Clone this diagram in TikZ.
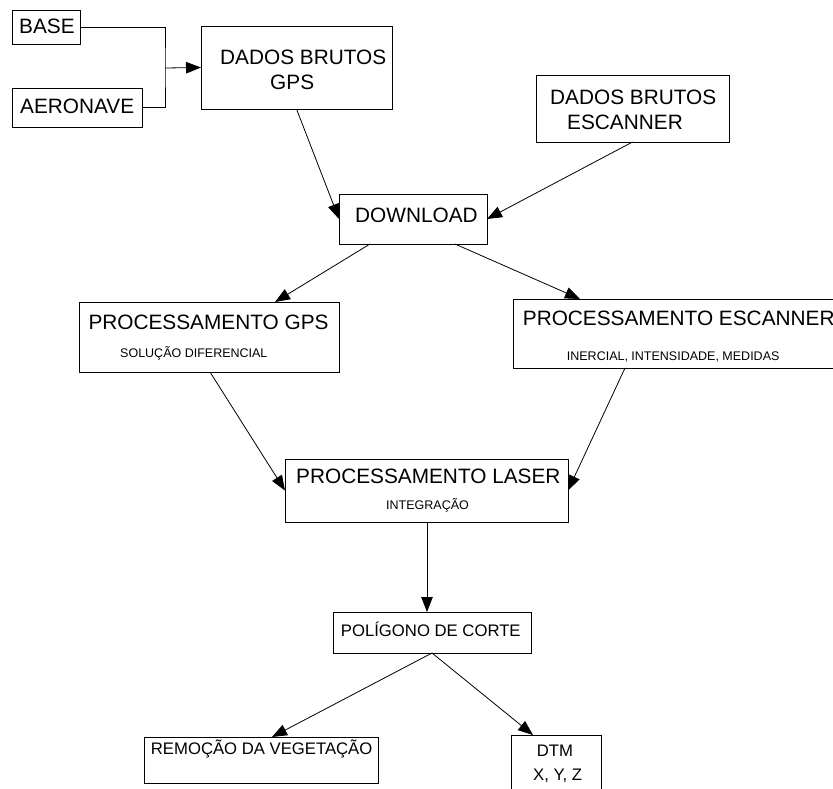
\documentclass[tikz,border=0pt]{standalone}
\usepackage{fontspec}
\setmainfont{Liberation Sans}
\usetikzlibrary{arrows.meta,calc}
\begin{document}
\begin{tikzpicture}[x=1pt,y=-1pt,
  box/.style={draw=black,line width=0.8pt,rectangle,inner sep=0pt,outer sep=0pt,anchor=north west},
  big/.style={font=\fontsize{20.8}{24}\selectfont,inner sep=0pt},
  mid/.style={font=\fontsize{16.7}{20}\selectfont,inner sep=0pt},
  small/.style={font=\fontsize{12.5}{15}\selectfont,inner sep=0pt},
  conn/.style={line width=0.8pt},
  arr/.style={conn,-{Triangle[length=15pt,width=11.5pt]}}]
\useasboundingbox (0,0) rectangle (833,789);
\clip (0,0) rectangle (833,789);
\fill[white] (0,0) rectangle (833,789);
% boxes
\node[box,minimum width=68pt,minimum height=34pt] (base) at (12,10) {};
\node[box,minimum width=130pt,minimum height=39pt] (aero) at (12,88) {};
\node[box,minimum width=191pt,minimum height=83pt] (dgps) at (201,26) {};
\node[box,minimum width=193pt,minimum height=67pt] (desc) at (536,75) {};
\node[box,minimum width=148pt,minimum height=50pt] (down) at (339,194) {};
\node[box,minimum width=260pt,minimum height=70pt] (pgps) at (79,302) {};
\node[box,minimum width=332pt,minimum height=69pt] (pesc) at (513,299) {};
\node[box,minimum width=283pt,minimum height=63pt] (plas) at (285,459) {};
\node[box,minimum width=198pt,minimum height=41pt] (poli) at (333,612) {};
\node[box,minimum width=234pt,minimum height=46pt] (remo) at (144,737) {};
\node[box,minimum width=90pt,minimum height=65pt] (dtm) at (511,735) {};
% texts
\node[big,anchor=base west] (tbase) at (19,34) {BASE};
\node[big,anchor=base west] (taero) at (20,113.5) {AERONAVE};
\node[big,anchor=base west] (tdgps1) at (220,65) {DADOS BRUTOS};
\node[big,anchor=base west] (tdgps2) at (270,90) {GPS};
\node[big,anchor=base west] (tdesc1) at (550,104.5) {DADOS BRUTOS};
\node[big,anchor=base west] (tdesc2) at (567,130) {ESCANNER};
\node[big,anchor=base west] (tdown) at (355,222.5) {DOWNLOAD};
\node[big,anchor=base west] (tpgps1) at (88.3,329.5) {PROCESSAMENTO GPS};
\node[small,anchor=base west] (tpgps2) at (120,357) {SOLUÇÃO DIFERENCIAL};
\node[big,anchor=base west] (tpesc1) at (522.7,325.5) {PROCESSAMENTO ESCANNER};
\node[small,anchor=base west] (tpesc2) at (566.7,360.5) {INERCIAL, INTENSIDADE, MEDIDAS};
\node[big,anchor=base west] (tplas1) at (296,483.5) {PROCESSAMENTO LASER};
\node[small,anchor=base west] (tplas2) at (386,509.5) {INTEGRAÇÃO};
\node[mid,anchor=base west] (tpoli) at (340.7,636) {POLÍGONO DE CORTE};
\node[mid,anchor=base west] (tremo) at (150.7,754) {REMOÇÃO DA VEGETAÇÃO};
\node[mid,anchor=base] (tdtm1) at (555,756.5) {DTM};
\node[mid,anchor=base west] (tdtm2) at (533,780) {X, Y, Z};
% connectors
\coordinate (j) at (165,68);
\draw[conn] (base.east) -| (j) |- (aero.east);
\draw[arr] (j) -- (dgps.west);
\draw[arr] (dgps.south) -- (down.west);
\draw[arr] (desc.south) -- (down.east);
\draw[arr] (370,0 |- down.south) -- (275,0 |- pgps.north);
\draw[arr] (455,0 |- down.south) -- (580,0 |- pesc.north);
\draw[arr] (210,0 |- pgps.south) -- (plas.west);
\draw[arr] (625,0 |- pesc.south) -- (plas.east);
\draw[arr] (427,0 |- plas.south) -- (427,0 |- poli.north);
\draw[arr] (poli.south) -- (272,0 |- remo.north);
\draw[arr] (poli.south) -- (533,0 |- dtm.north);
\end{tikzpicture}
\end{document}
